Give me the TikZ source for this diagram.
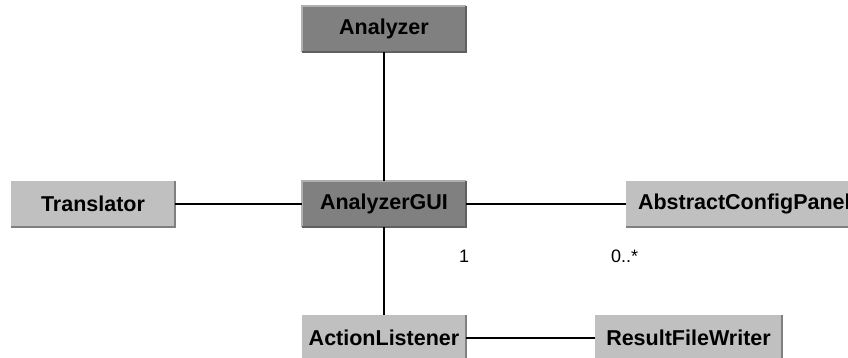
\documentclass[tikz,border=0pt]{standalone}
\usepackage{fontspec}
\setmainfont{Liberation Sans}
\definecolor{darkfill}{HTML}{808080}
\definecolor{lightfill}{HTML}{C0C0C0}
\definecolor{bevlight}{HTML}{B0B0B0}
\definecolor{bevdark}{HTML}{606060}
\begin{document}
\begin{tikzpicture}[x=1pt,y=-1pt,
  cls/.style={minimum width=164pt,minimum height=46pt,inner sep=0pt,font=\fontsize{21.5}{24}\selectfont\bfseries,anchor=center},
  darkcls/.style={cls,fill=darkfill},
  lightcls/.style={cls,fill=lightfill},
  conn/.style={line width=1.3pt,black},
  mult/.style={font=\fontsize{18}{20}\selectfont,inner sep=0pt}]
\useasboundingbox (0,0) rectangle (848,358);
\fill[white] (0,0) rectangle (848,358);
\node[darkcls] (an) at (384,29) {Analyzer};
\node[darkcls] (gui) at (384,204) {AnalyzerGUI};
\node[lightcls] (tr) at (93,204) {Translator};
\node[lightcls,minimum width=240pt,text width=226pt,align=left] (acp) at (746,204) {\hspace*{5pt}AbstractConfigPanel};
\node[lightcls] (al) at (384,338) {ActionListener};
\node[lightcls,minimum width=187pt] (rfw) at (688.5,338) {ResultFileWriter};
\foreach \n in {an,gui}{
  \draw[bevlight,line width=1.5pt] (\n.south west) -- (\n.north west) -- (\n.north east);
  \draw[bevdark,line width=1.5pt] (\n.north east) -- (\n.south east) -- (\n.south west);
}
\foreach \n in {tr,acp,al,rfw}{
  \draw[darkfill,line width=1.5pt] (\n.north east) -- (\n.south east) -- (\n.south west);
}
\draw[conn] (an) -- (gui);
\draw[conn] (gui) -- (al);
\draw[conn] (tr) -- (gui);
\draw[conn] (gui) -- (acp.west);
\draw[conn] (al) -- (rfw);
\node[mult] (m1) at (464,256) {1};
\node[mult,anchor=west] (m2) at (611,256) {0..*};
\end{tikzpicture}
\end{document}
